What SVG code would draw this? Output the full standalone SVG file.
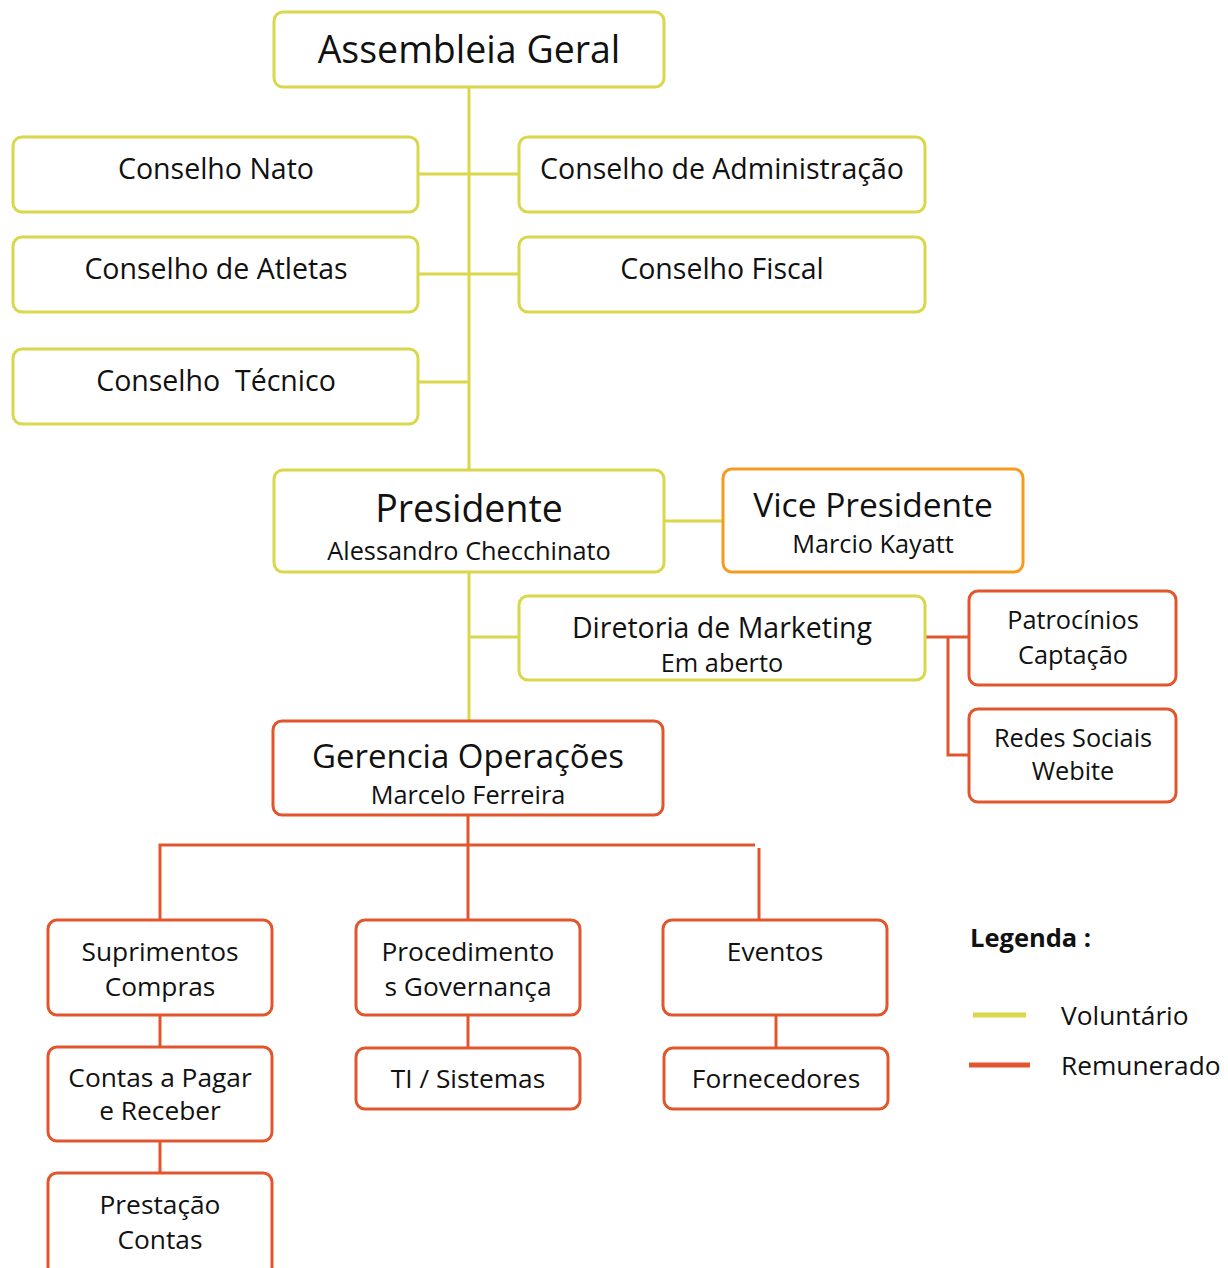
<svg xmlns="http://www.w3.org/2000/svg" width="1228" height="1268" viewBox="0 0 1228 1268">
<style>
text{font-family:"Open Sans","Noto Sans","Liberation Sans",sans-serif;fill:#111;text-anchor:middle}
.y{fill:#fff;stroke:#DAD74C;stroke-width:3}
.o{fill:#fff;stroke:#F69B1F;stroke-width:3}
.r{fill:#fff;stroke:#E1562C;stroke-width:3}
.ly{stroke:#DAD74C;stroke-width:3;fill:none}
.lr{stroke:#E1562C;stroke-width:3;fill:none}
.t36{font-size:37.5px}.t28{font-size:28.5px}.t24{font-size:25.3px}.t26{font-size:26.3px}
</style>
<rect width="1228" height="1268" fill="#fff"/>
<g id="connectors">
<path class="ly" d="M469 87V470M418 174H519M418 274H519M418 382H469M664 521H723M469 572V721M469 637H519"/>
<path class="lr" d="M925 637H969M948 637V755H969M468 815V920M160 920V845H755M759 848V920M160 1015V1047M160 1141V1173M468 1015V1048M776 1015V1048"/>
</g>
<g id="assembleia"><rect class="y" x="274" y="12" width="390" height="75" rx="9"/><text class="t36" x="469" y="63">Assembleia Geral</text></g>
<g id="conselho-nato"><rect class="y" x="13" y="137" width="405" height="75" rx="9"/><text class="t28" x="216" y="179">Conselho Nato</text></g>
<g id="conselho-admin"><rect class="y" x="519" y="137" width="406" height="75" rx="9"/><text class="t28" x="722" y="179">Conselho de Administração</text></g>
<g id="conselho-atletas"><rect class="y" x="13" y="237" width="405" height="75" rx="9"/><text class="t28" x="216" y="279">Conselho de Atletas</text></g>
<g id="conselho-fiscal"><rect class="y" x="519" y="237" width="406" height="75" rx="9"/><text class="t28" x="722" y="279">Conselho Fiscal</text></g>
<g id="conselho-tecnico"><rect class="y" x="13" y="349" width="405" height="75" rx="9"/><text class="t28" x="216" y="391" xml:space="preserve">Conselho  Técnico</text></g>
<g id="presidente"><rect class="y" x="274" y="470" width="390" height="102" rx="9"/><text class="t36" x="469" y="522">Presidente</text><text class="t24" x="469" y="560">Alessandro Checchinato</text></g>
<g id="vice"><rect class="o" x="723" y="469" width="300" height="103" rx="9"/><text style="font-size:33.5px" x="873" y="517">Vice Presidente</text><text class="t24" x="873" y="553">Marcio Kayatt</text></g>
<g id="diretoria"><rect class="y" x="519" y="596" width="406" height="84" rx="9"/><text class="t28" x="722" y="638">Diretoria de Marketing</text><text class="t24" x="722" y="672">Em aberto</text></g>
<g id="patrocinios"><rect class="r" x="969" y="591" width="207" height="94" rx="9"/><text class="t24" x="1073" y="629">Patrocínios</text><text class="t24" x="1073" y="664">Captação</text></g>
<g id="redes"><rect class="r" x="969" y="709" width="207" height="93" rx="9"/><text class="t24" x="1073" y="747">Redes Sociais</text><text class="t24" x="1073" y="780">Webite</text></g>
<g id="gerencia"><rect class="r" x="273" y="721" width="390" height="94" rx="9"/><text style="font-size:33px" x="468" y="768">Gerencia Operações</text><text class="t24" x="468" y="804">Marcelo Ferreira</text></g>
<g id="suprimentos"><rect class="r" x="48" y="920" width="224" height="95" rx="9"/><text class="t26" x="160" y="961">Suprimentos</text><text class="t26" x="160" y="996">Compras</text></g>
<g id="procedimentos"><rect class="r" x="356" y="920" width="224" height="95" rx="9"/><text class="t26" x="468" y="961">Procedimento</text><text class="t26" x="468" y="996">s Governança</text></g>
<g id="eventos"><rect class="r" x="663" y="920" width="224" height="95" rx="9"/><text class="t26" x="775" y="961">Eventos</text></g>
<g id="contas"><rect class="r" x="48" y="1047" width="224" height="94" rx="9"/><text class="t26" x="160" y="1087">Contas a Pagar</text><text class="t26" x="160" y="1120">e Receber</text></g>
<g id="ti"><rect class="r" x="356" y="1048" width="224" height="61" rx="9"/><text class="t26" x="468" y="1088">TI / Sistemas</text></g>
<g id="fornecedores"><rect class="r" x="664" y="1048" width="224" height="61" rx="9"/><text class="t26" x="776" y="1088">Fornecedores</text></g>
<g id="prestacao"><rect class="r" x="48" y="1173" width="224" height="105" rx="9"/><text class="t26" x="160" y="1214">Prestação</text><text class="t26" x="160" y="1249">Contas</text></g>
<g id="legend">
<text x="970" y="947" style="text-anchor:start;font-size:25.5px;font-weight:bold">Legenda :</text>
<line x1="973" y1="1015" x2="1026" y2="1015" stroke="#DAD74C" stroke-width="5"/>
<line x1="969" y1="1065" x2="1030" y2="1065" stroke="#E1562C" stroke-width="5"/>
<text x="1061" y="1025" class="t26" style="text-anchor:start">Voluntário</text>
<text x="1061" y="1075" class="t26" style="text-anchor:start">Remunerado</text>
</g>
</svg>
